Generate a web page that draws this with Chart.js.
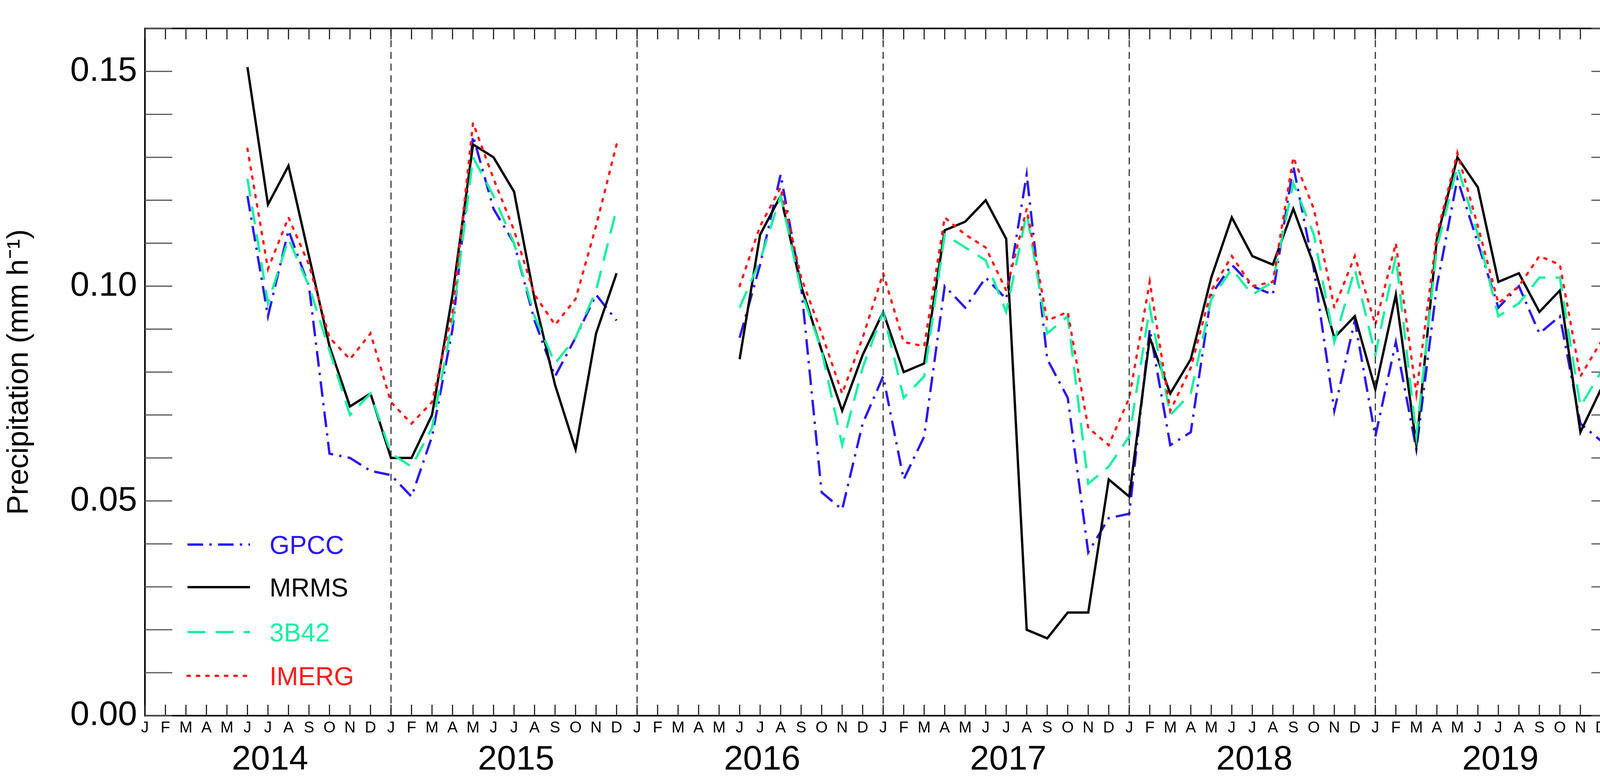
<!DOCTYPE html>
<html><head><meta charset="utf-8">
<script src="https://cdn.jsdelivr.net/npm/chart.js@4"></script>
<style>html,body{margin:0;padding:0;background:#fff;overflow:hidden}#w{width:4187px;height:1989px;position:relative}canvas{display:block}</style>
</head><body><div id="w"><canvas id="c"></canvas></div>
<script>
const monthLetters = ["J","F","M","A","M","J","J","A","S","O","N","D"];
const years = ["2014","2015","2016","2017","2018","2019"];
const seriesNames = ["GPCC","MRMS","3B42","IMERG"];
const N = null;
const gpcc = [N,N,N,N,N,.121,.093,.113,.100,.061,.060,.057,
 .056,.051,.065,.090,.135,.118,.110,.092,.079,.088,.098,.092,
 N,N,N,N,N,.088,.105,.126,.100,.052,.048,.068,
 .079,.055,.065,.100,.095,.102,.097,.126,.083,.074,.038,.046,
 .047,.090,.063,.066,.098,.105,.100,.098,.128,.104,.071,.092,
 .065,.087,.062,.100,.125,.110,.095,.100,.089,.093,.068,.064];
const mrms = [N,N,N,N,N,.151,.119,.128,.107,.086,.072,.075,
 .060,.060,.070,.098,.133,.130,.122,.097,.077,.062,.089,.103,
 N,N,N,N,N,.083,.112,.121,.100,.085,.071,.084,
 .094,.080,.082,.113,.115,.120,.111,.020,.018,.024,.024,.055,
 .051,.088,.075,.083,.102,.116,.107,.105,.118,.105,.088,.093,
 .076,.098,.063,.111,.130,.123,.101,.103,.094,.099,.066,.076];
const b42 = [N,N,N,N,N,.125,.096,.111,.100,.085,.070,.075,
 .061,.058,.067,.092,.130,.121,.110,.093,.082,.088,.099,.118,
 N,N,N,N,N,.095,.106,.121,.099,.085,.063,.081,
 .094,.074,.079,.112,.109,.106,.094,.117,.089,.093,.054,.058,
 .065,.095,.070,.075,.097,.104,.098,.101,.124,.112,.087,.104,
 .084,.107,.065,.109,.128,.112,.093,.096,.102,.102,.072,.080];
const imerg = [N,N,N,N,N,.132,.104,.116,.105,.088,.083,.089,
 .073,.068,.073,.094,.138,.125,.113,.098,.091,.097,.114,.133,
 N,N,N,N,N,.100,.114,.123,.102,.089,.075,.088,
 .103,.087,.086,.116,.112,.109,.099,.118,.092,.094,.067,.063,
 .074,.101,.071,.081,.099,.107,.100,.101,.130,.118,.095,.107,
 .091,.110,.075,.112,.131,.114,.096,.100,.107,.105,.079,.087];

const styles = [
 {c:'#2a16f0', d:[40,16,6,16]},
 {c:'#000000', d:[]},
 {c:'#16f0a0', d:[46,26]},
 {c:'#ff1a1a', d:[6,18]}
];
const vals = [gpcc, mrms, b42, imerg];
const datasets = vals.map((v,i)=>({
  label: seriesNames[i],
  data: v.map((y,x)=>({x, y})),
  borderColor: styles[i].c, borderDash: styles[i].d, borderWidth: 6,
  pointRadius: 0, spanGaps: false, tension: 0, fill: false,
  borderCapStyle: i===3 ? 'round':'butt'
}));
datasets.reverse();

const deco = {
  id:'deco',
  afterDatasetsDraw(ch){
    const {ctx, chartArea:a, scales:{x,y}} = ch;
    ctx.save();
    ctx.strokeStyle='#333'; ctx.lineWidth=3; ctx.setLineDash([18,12]);
    for(let k=1;k<years.length;k++){
      const px=x.getPixelForValue(k*12);
      ctx.beginPath(); ctx.moveTo(px,a.top); ctx.lineTo(px,a.bottom); ctx.stroke();
    }
    ctx.setLineDash([]);
    ctx.strokeStyle='#000'; ctx.lineWidth=4;
    ctx.strokeRect(a.left,a.top,a.right-a.left,a.bottom-a.top);
    ctx.lineWidth=3; ctx.strokeStyle='#222';
    for(let m=0;m<72;m++){
      const px=x.getPixelForValue(m);
      ctx.beginPath(); ctx.moveTo(px,a.bottom); ctx.lineTo(px,a.bottom-28);
      ctx.moveTo(px,a.top); ctx.lineTo(px,a.top+28); ctx.stroke();
    }
    ctx.strokeStyle='#555';
    for(let t=0;t<=16;t++){
      const py=y.getPixelForValue(t/100);
      ctx.beginPath(); ctx.moveTo(a.left,py); ctx.lineTo(a.left+70,py);
      ctx.moveTo(a.right,py); ctx.lineTo(a.right-70,py); ctx.stroke();
    }
    ctx.fillStyle='#000'; ctx.textAlign='center'; ctx.textBaseline='top';
    ctx.font='40px "Liberation Sans"';
    for(let m=0;m<72;m++){
      ctx.fillText(monthLetters[m%12], x.getPixelForValue(m), a.bottom+12);
    }
    ctx.font='88px "Liberation Sans"';
    years.forEach((yr,k)=>ctx.fillText(yr, x.getPixelForValue(k*12+6.1), a.bottom+70));
    const ly=[1394,1503,1618,1730];
    [0,1,2,3].forEach(i=>{
      ctx.strokeStyle=styles[i].c; ctx.lineWidth=6; ctx.setLineDash(styles[i].d);
      ctx.lineCap = i===3?'round':'butt';
      ctx.beginPath(); ctx.moveTo(480,ly[i]); ctx.lineTo(640,ly[i]); ctx.stroke();
      ctx.setLineDash([]);
      ctx.fillStyle=styles[i].c; ctx.textAlign='left'; ctx.textBaseline='middle';
      ctx.font='66px "Liberation Sans"';
      ctx.fillText(seriesNames[i], 690, ly[i]+6);
    });
    ctx.restore();
  }
};

new Chart(document.getElementById('c'), {
  type:'line',
  data:{datasets},
  options:{
    responsive:true, maintainAspectRatio:false, animation:false,
    layout:{padding:{top:40,right:43,left:0,bottom:0}},
    plugins:{legend:{display:false}, tooltip:{enabled:false}},
    scales:{
      x:{type:'linear', min:0, max:71.87,
         grid:{display:false, drawTicks:false}, border:{display:false},
         ticks:{display:false},
         afterFit(s){ s.height = 157; }},
      y:{min:0, max:0.16,
         grid:{display:false, drawTicks:false}, border:{display:false},
         ticks:{stepSize:0.05, autoSkip:false, font:{size:88, family:'Liberation Sans'}, color:'#000', padding:20,
                callback:(v)=> (Math.round(v*100)%5===0 && v<=0.15+1e-9) ? v.toFixed(2) : ''},
         title:{display:true, text:'Precipitation (mm h⁻¹)', font:{size:76, family:'Liberation Sans'}, color:'#000', padding:{bottom:6}},
         afterFit(s){ s.width = 371; }}
    }
  },
  plugins:[deco]
});
</script></body></html>
